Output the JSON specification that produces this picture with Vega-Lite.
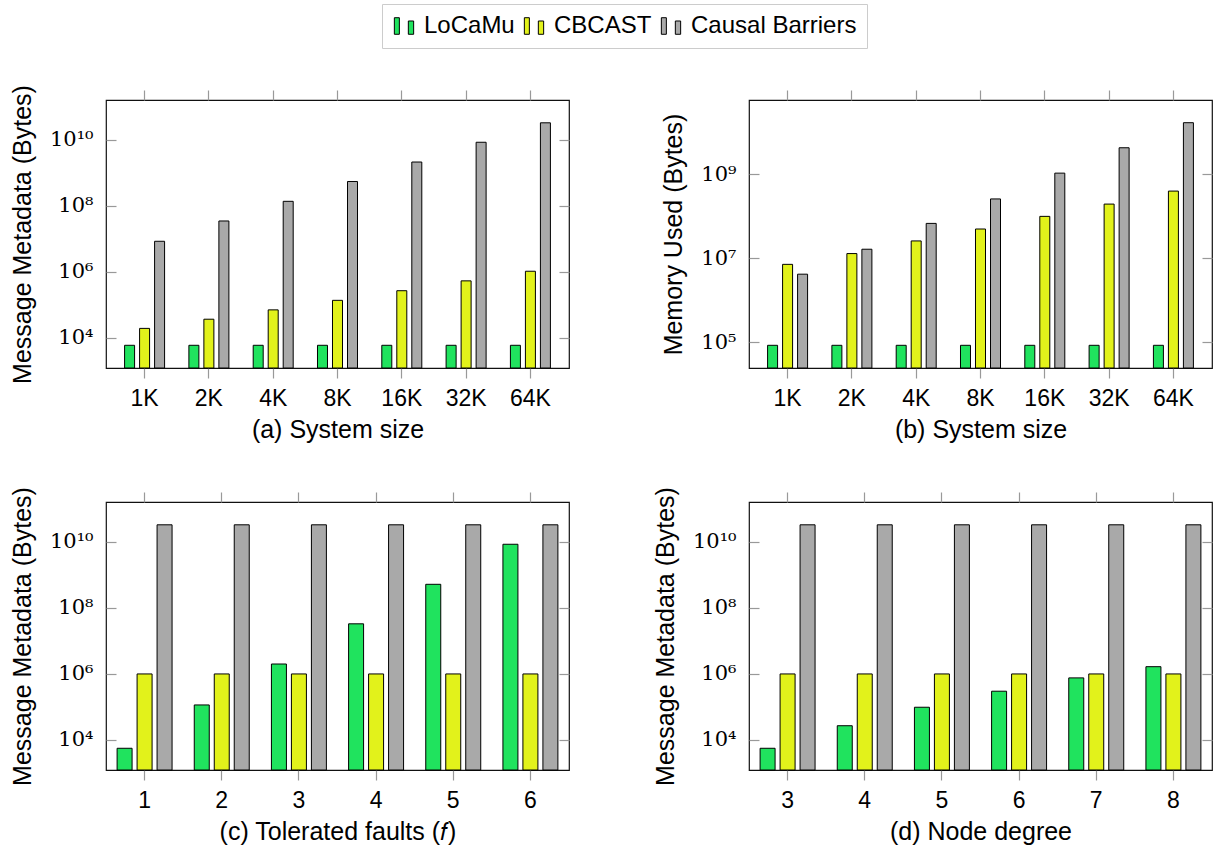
{
  "$schema": "https://vega.github.io/schema/vega-lite/v6.json",
  "padding": {"left": 9, "top": 3, "right": 2, "bottom": 5},
  "config": {
    "font": "Liberation Sans",
    "view": {"stroke": "#111", "strokeWidth": 1.2},
    "axis": {"grid": false, "domain": false, "tickColor": "#999", "tickWidth": 1.2, "tickSize": 10, "labelFont": "Liberation Sans", "labelFontSize": 23, "labelColor": "#000", "titleFont": "Liberation Sans", "titleFontSize": 25, "titleFontWeight": "normal", "titleColor": "#000"},
    "axisX": {"labelAngle": 0, "labelPadding": 9, "titlePadding": 7},
    "axisY": {"labelFont": "DejaVu Serif", "labelFontSize": 21, "tickSize": -10, "labelPadding": 23, "titlePadding": 14},
    "bar": {"stroke": "#000", "strokeWidth": 1, "opacity": 1},
    "legend": {
      "orient": "none", "legendX": 276, "legendY": -96, "direction": "horizontal",
      "strokeColor": "#cccccc", "padding": 10, "labelFont": "Liberation Sans", "labelFontSize": 24, "labelLimit": 0,
      "labelColor": "#000", "symbolType": "M-1,-0.86H-0.48V0.86H-1Z M0.45,-0.52H1V0.86H0.45Z",
      "symbolSize": 372, "symbolStrokeWidth": 0, "symbolOpacity": 1, "labelOffset": 8, "columnPadding": 7, "title": null
    }
  },
  "datasets": {
    "a": [
      {"x": "1K", "algo": "LoCaMu", "value": 6000}, {"x": "1K", "algo": "CBCAST", "value": 19500}, {"x": "1K", "algo": "Causal Barriers", "value": 8500000},
      {"x": "2K", "algo": "LoCaMu", "value": 6000}, {"x": "2K", "algo": "CBCAST", "value": 37000}, {"x": "2K", "algo": "Causal Barriers", "value": 35000000},
      {"x": "4K", "algo": "LoCaMu", "value": 6000}, {"x": "4K", "algo": "CBCAST", "value": 71000}, {"x": "4K", "algo": "Causal Barriers", "value": 138000000},
      {"x": "8K", "algo": "LoCaMu", "value": 6000}, {"x": "8K", "algo": "CBCAST", "value": 138000}, {"x": "8K", "algo": "Causal Barriers", "value": 550000000},
      {"x": "16K", "algo": "LoCaMu", "value": 6000}, {"x": "16K", "algo": "CBCAST", "value": 270000}, {"x": "16K", "algo": "Causal Barriers", "value": 2140000000},
      {"x": "32K", "algo": "LoCaMu", "value": 6000}, {"x": "32K", "algo": "CBCAST", "value": 537000}, {"x": "32K", "algo": "Causal Barriers", "value": 8500000000},
      {"x": "64K", "algo": "LoCaMu", "value": 6000}, {"x": "64K", "algo": "CBCAST", "value": 1050000}, {"x": "64K", "algo": "Causal Barriers", "value": 33000000000}
    ],
    "b": [
      {"x": "1K", "algo": "LoCaMu", "value": 85000}, {"x": "1K", "algo": "CBCAST", "value": 7200000}, {"x": "1K", "algo": "Causal Barriers", "value": 4200000},
      {"x": "2K", "algo": "LoCaMu", "value": 85000}, {"x": "2K", "algo": "CBCAST", "value": 13000000}, {"x": "2K", "algo": "Causal Barriers", "value": 16500000},
      {"x": "4K", "algo": "LoCaMu", "value": 85000}, {"x": "4K", "algo": "CBCAST", "value": 26000000}, {"x": "4K", "algo": "Causal Barriers", "value": 68000000},
      {"x": "8K", "algo": "LoCaMu", "value": 85000}, {"x": "8K", "algo": "CBCAST", "value": 50000000}, {"x": "8K", "algo": "Causal Barriers", "value": 260000000},
      {"x": "16K", "algo": "LoCaMu", "value": 85000}, {"x": "16K", "algo": "CBCAST", "value": 100000000}, {"x": "16K", "algo": "Causal Barriers", "value": 1070000000},
      {"x": "32K", "algo": "LoCaMu", "value": 85000}, {"x": "32K", "algo": "CBCAST", "value": 196000000}, {"x": "32K", "algo": "Causal Barriers", "value": 4300000000},
      {"x": "64K", "algo": "LoCaMu", "value": 85000}, {"x": "64K", "algo": "CBCAST", "value": 400000000}, {"x": "64K", "algo": "Causal Barriers", "value": 17000000000}
    ],
    "c": [
      {"x": "1", "algo": "LoCaMu", "value": 5600}, {"x": "1", "algo": "CBCAST", "value": 1000000}, {"x": "1", "algo": "Causal Barriers", "value": 33000000000},
      {"x": "2", "algo": "LoCaMu", "value": 115000}, {"x": "2", "algo": "CBCAST", "value": 1000000}, {"x": "2", "algo": "Causal Barriers", "value": 33000000000},
      {"x": "3", "algo": "LoCaMu", "value": 2000000}, {"x": "3", "algo": "CBCAST", "value": 1000000}, {"x": "3", "algo": "Causal Barriers", "value": 33000000000},
      {"x": "4", "algo": "LoCaMu", "value": 33000000}, {"x": "4", "algo": "CBCAST", "value": 1000000}, {"x": "4", "algo": "Causal Barriers", "value": 33000000000},
      {"x": "5", "algo": "LoCaMu", "value": 520000000}, {"x": "5", "algo": "CBCAST", "value": 1000000}, {"x": "5", "algo": "Causal Barriers", "value": 33000000000},
      {"x": "6", "algo": "LoCaMu", "value": 8500000000}, {"x": "6", "algo": "CBCAST", "value": 1000000}, {"x": "6", "algo": "Causal Barriers", "value": 33000000000}
    ],
    "d": [
      {"x": "3", "algo": "LoCaMu", "value": 5600}, {"x": "3", "algo": "CBCAST", "value": 1000000}, {"x": "3", "algo": "Causal Barriers", "value": 33000000000},
      {"x": "4", "algo": "LoCaMu", "value": 27000}, {"x": "4", "algo": "CBCAST", "value": 1000000}, {"x": "4", "algo": "Causal Barriers", "value": 33000000000},
      {"x": "5", "algo": "LoCaMu", "value": 98000}, {"x": "5", "algo": "CBCAST", "value": 1000000}, {"x": "5", "algo": "Causal Barriers", "value": 33000000000},
      {"x": "6", "algo": "LoCaMu", "value": 300000}, {"x": "6", "algo": "CBCAST", "value": 1000000}, {"x": "6", "algo": "Causal Barriers", "value": 33000000000},
      {"x": "7", "algo": "LoCaMu", "value": 760000}, {"x": "7", "algo": "CBCAST", "value": 1000000}, {"x": "7", "algo": "Causal Barriers", "value": 33000000000},
      {"x": "8", "algo": "LoCaMu", "value": 1660000}, {"x": "8", "algo": "CBCAST", "value": 1000000}, {"x": "8", "algo": "Causal Barriers", "value": 33000000000}
    ]
  },
  "columns": 2,
  "spacing": {"row": 134, "column": 180},
  "bounds": "flush",
  "resolve": {"scale": {"color": "shared", "xOffset": "independent"}, "legend": {"color": "shared"}},
  "concat": [
    {
      "width": 463, "height": 268,
      "data": {"name": "a"},
      "resolve": {"axis": {"x": "independent", "y": "independent"}},
      "layer": [
        {
          "mark": {"type": "bar"},
          "encoding": {
            "x": {"field": "x", "type": "nominal", "sort": ["1K","2K","4K","8K","16K","32K","64K"], "scale": {"paddingInner": 0, "paddingOuter": 0.1}, "axis": {"orient": "bottom", "title": "(a) System size"}},
            "xOffset": {"field": "algo", "type": "nominal", "sort": ["LoCaMu","CBCAST","Causal Barriers"], "scale": {"paddingInner": 0.3333, "paddingOuter": 0.81}},
            "y": {"field": "value", "type": "quantitative", "scale": {"type": "log", "domain": [1230, 162000000000], "nice": false, "zero": false}, "axis": {"orient": "left", "title": "Message Metadata (Bytes)", "values": [10000, 1000000, 100000000, 10000000000], "labelExpr": "'10' + ['⁰','¹','²','³','⁴','⁵','⁶','⁷','⁸','⁹','¹⁰','¹¹'][round(log(datum.value)/LN10)]"}},
            "y2": {"datum": 1230},
            "color": {"field": "algo", "type": "nominal", "sort": ["LoCaMu","CBCAST","Causal Barriers"], "scale": {"domain": ["LoCaMu","CBCAST","Causal Barriers"], "range": ["#20e35e","#e2f21b","#a9a9a9"]}}
          }
        },
        {
          "mark": {"type": "bar", "opacity": 0, "strokeOpacity": 0},
          "encoding": {
            "x": {"field": "x", "type": "nominal", "sort": ["1K","2K","4K","8K","16K","32K","64K"], "axis": {"orient": "top", "labels": false, "title": null}},
            "xOffset": {"field": "algo", "type": "nominal", "sort": ["LoCaMu","CBCAST","Causal Barriers"]},
            "y": {"field": "value", "type": "quantitative", "axis": {"orient": "right", "labels": false, "title": null, "values": [10000, 1000000, 100000000, 10000000000]}}
          }
        }
      ]
    },
    {
      "width": 463, "height": 268,
      "data": {"name": "b"},
      "resolve": {"axis": {"x": "independent", "y": "independent"}},
      "layer": [
        {
          "mark": {"type": "bar"},
          "encoding": {
            "x": {"field": "x", "type": "nominal", "sort": ["1K","2K","4K","8K","16K","32K","64K"], "scale": {"paddingInner": 0, "paddingOuter": 0.1}, "axis": {"orient": "bottom", "title": "(b) System size"}},
            "xOffset": {"field": "algo", "type": "nominal", "sort": ["LoCaMu","CBCAST","Causal Barriers"], "scale": {"paddingInner": 0.3333, "paddingOuter": 0.81}},
            "y": {"field": "value", "type": "quantitative", "scale": {"type": "log", "domain": [24500, 59000000000], "nice": false, "zero": false}, "axis": {"orient": "left", "title": "Memory Used (Bytes)", "values": [100000, 10000000, 1000000000], "labelExpr": "'10' + ['⁰','¹','²','³','⁴','⁵','⁶','⁷','⁸','⁹','¹⁰','¹¹'][round(log(datum.value)/LN10)]"}},
            "y2": {"datum": 24500},
            "color": {"field": "algo", "type": "nominal", "sort": ["LoCaMu","CBCAST","Causal Barriers"]}
          }
        },
        {
          "mark": {"type": "bar", "opacity": 0, "strokeOpacity": 0},
          "encoding": {
            "x": {"field": "x", "type": "nominal", "sort": ["1K","2K","4K","8K","16K","32K","64K"], "axis": {"orient": "top", "labels": false, "title": null}},
            "xOffset": {"field": "algo", "type": "nominal", "sort": ["LoCaMu","CBCAST","Causal Barriers"]},
            "y": {"field": "value", "type": "quantitative", "axis": {"orient": "right", "labels": false, "title": null, "values": [100000, 10000000, 1000000000]}}
          }
        }
      ]
    },
    {
      "width": 463, "height": 268,
      "data": {"name": "c"},
      "resolve": {"axis": {"x": "independent", "y": "independent"}},
      "layer": [
        {
          "mark": {"type": "bar"},
          "encoding": {
            "x": {"field": "x", "type": "nominal", "sort": ["1","2","3","4","5","6"], "scale": {"paddingInner": 0, "paddingOuter": 0}, "axis": {"orient": "bottom", "title": "(c) Tolerated faults (𝑓)"}},
            "xOffset": {"field": "algo", "type": "nominal", "sort": ["LoCaMu","CBCAST","Causal Barriers"], "scale": {"paddingInner": 0.25, "paddingOuter": 0.555}},
            "y": {"field": "value", "type": "quantitative", "scale": {"type": "log", "domain": [1230, 162000000000], "nice": false, "zero": false}, "axis": {"orient": "left", "title": "Message Metadata (Bytes)", "values": [10000, 1000000, 100000000, 10000000000], "labelExpr": "'10' + ['⁰','¹','²','³','⁴','⁵','⁶','⁷','⁸','⁹','¹⁰','¹¹'][round(log(datum.value)/LN10)]"}},
            "y2": {"datum": 1230},
            "color": {"field": "algo", "type": "nominal", "sort": ["LoCaMu","CBCAST","Causal Barriers"]}
          }
        },
        {
          "mark": {"type": "bar", "opacity": 0, "strokeOpacity": 0},
          "encoding": {
            "x": {"field": "x", "type": "nominal", "sort": ["1","2","3","4","5","6"], "axis": {"orient": "top", "labels": false, "title": null}},
            "xOffset": {"field": "algo", "type": "nominal", "sort": ["LoCaMu","CBCAST","Causal Barriers"]},
            "y": {"field": "value", "type": "quantitative", "axis": {"orient": "right", "labels": false, "title": null, "values": [10000, 1000000, 100000000, 10000000000]}}
          }
        }
      ]
    },
    {
      "width": 463, "height": 268,
      "data": {"name": "d"},
      "resolve": {"axis": {"x": "independent", "y": "independent"}},
      "layer": [
        {
          "mark": {"type": "bar"},
          "encoding": {
            "x": {"field": "x", "type": "nominal", "sort": ["3","4","5","6","7","8"], "scale": {"paddingInner": 0, "paddingOuter": 0}, "axis": {"orient": "bottom", "title": "(d) Node degree"}},
            "xOffset": {"field": "algo", "type": "nominal", "sort": ["LoCaMu","CBCAST","Causal Barriers"], "scale": {"paddingInner": 0.25, "paddingOuter": 0.555}},
            "y": {"field": "value", "type": "quantitative", "scale": {"type": "log", "domain": [1230, 162000000000], "nice": false, "zero": false}, "axis": {"orient": "left", "title": "Message Metadata (Bytes)", "values": [10000, 1000000, 100000000, 10000000000], "labelExpr": "'10' + ['⁰','¹','²','³','⁴','⁵','⁶','⁷','⁸','⁹','¹⁰','¹¹'][round(log(datum.value)/LN10)]"}},
            "y2": {"datum": 1230},
            "color": {"field": "algo", "type": "nominal", "sort": ["LoCaMu","CBCAST","Causal Barriers"]}
          }
        },
        {
          "mark": {"type": "bar", "opacity": 0, "strokeOpacity": 0},
          "encoding": {
            "x": {"field": "x", "type": "nominal", "sort": ["3","4","5","6","7","8"], "axis": {"orient": "top", "labels": false, "title": null}},
            "xOffset": {"field": "algo", "type": "nominal", "sort": ["LoCaMu","CBCAST","Causal Barriers"]},
            "y": {"field": "value", "type": "quantitative", "axis": {"orient": "right", "labels": false, "title": null, "values": [10000, 1000000, 100000000, 10000000000]}}
          }
        }
      ]
    }
  ]
}
